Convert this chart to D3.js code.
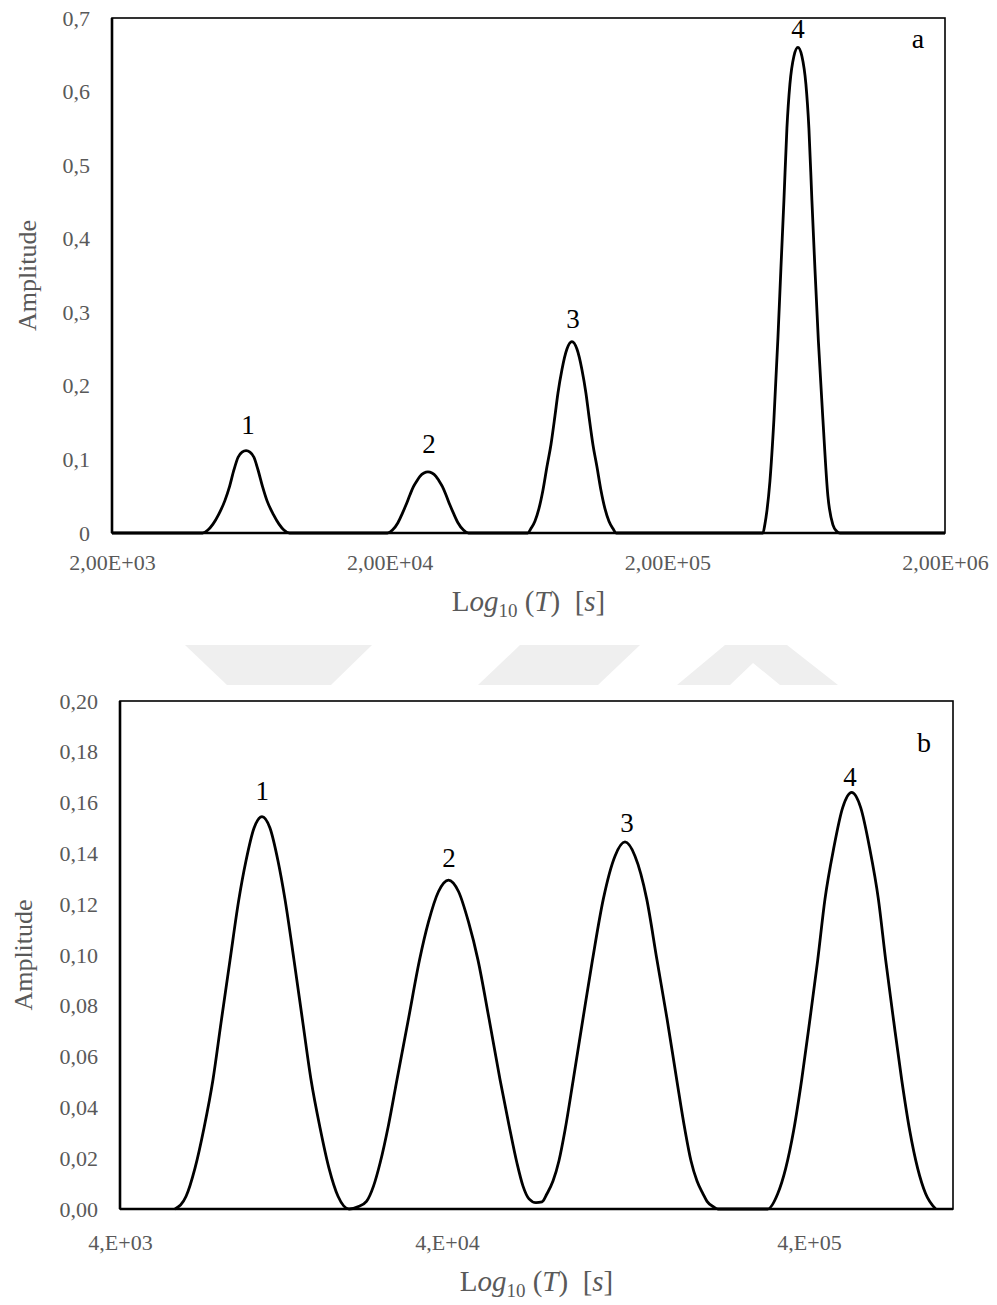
<!DOCTYPE html>
<html>
<head>
<meta charset="utf-8">
<script src="https://cdn.jsdelivr.net/npm/d3@7"></script>
<style>
body { margin: 0; background: #fff; }
svg text { font-family: "Liberation Serif", "Times New Roman", serif; }
</style>
</head>
<body>
<div id="chart"></div>
<script>
// Panel a : amplitude en fonction de T (s)
const timeA = [2000,
    4240, 4430, 4620, 4840, 5100, 5300, 5500, 5690, 5880, 6080, 6280, 6490, 6710, 6970, 7230, 7630, 7990, 8320, 8710,
    19640, 20470, 21420, 22240, 22890, 23670, 24360, 25080, 25710, 26580, 27470, 28400, 29360, 30100, 30980, 31890, 32970, 33940, 35230, 36880, 38440,
    62950, 64540, 66710, 68960, 71290, 73690, 76180, 78750, 80730, 83450, 86990, 90670, 94510, 98520, 101840, 104400, 107930, 111570, 115330, 119220, 123240, 127400, 130600,
    441900, 449200, 456700, 468200, 484000, 500400, 513000, 525900, 539100, 552700, 571300, 590600, 610500, 631100, 647000, 663300, 680000, 700100, 726700, 757400, 789500, 816100, 836700,
    2000000];
const ampA = [0,
    0, 0.004, 0.012, 0.025, 0.044, 0.063, 0.086, 0.103, 0.110, 0.112, 0.110, 0.103, 0.086, 0.063, 0.044, 0.025, 0.012, 0.004, 0,
    0, 0.004, 0.014, 0.027, 0.038, 0.052, 0.063, 0.071, 0.077, 0.0815, 0.083, 0.0815, 0.077, 0.071, 0.063, 0.052, 0.038, 0.027, 0.014, 0.004, 0,
    0, 0.006, 0.016, 0.033, 0.058, 0.090, 0.120, 0.159, 0.190, 0.222, 0.250, 0.260, 0.250, 0.222, 0.190, 0.159, 0.120, 0.090, 0.058, 0.033, 0.016, 0.006, 0,
    0, 0.012, 0.030, 0.070, 0.154, 0.265, 0.360, 0.452, 0.550, 0.610, 0.648, 0.660, 0.648, 0.610, 0.550, 0.452, 0.360, 0.260, 0.154, 0.050, 0.011, 0.002, 0,
    0];
const xTicksA = [2000, 20000, 200000, 2000000];
const xLabelsA = ['2,00E+03', '2,00E+04', '2,00E+05', '2,00E+06'];
const yTicksA = [0, 0.1, 0.2, 0.3, 0.4, 0.5, 0.6, 0.7];
const yLabelsA = ['0', '0,1', '0,2', '0,3', '0,4', '0,5', '0,6', '0,7'];
const peakTimeA = [6180, 27700, 91500, 591000];
const peakLabelAmpA = [0.1345, 0.1087, 0.2785, 0.6726];

// Panel b
const timeB = [5890, 6370, 6780, 7230, 7700, 8140, 8680, 9240, 9710, 10280, 10870, 11500, 12170, 12780, 13620, 14510, 15350, 16360, 17430, 18570,
    20060, 21450, 22690, 23840, 24960, 26490, 28130, 30510, 32960, 35110, 37680, 40380, 43040, 45860, 48720, 52250, 56040, 59340, 62440, 64870, 67390,
    70460, 73190, 75560, 78500, 81540, 84730, 89320, 95010, 100900, 108100, 116500, 124100, 132200, 142500, 152100, 162100, 172400, 181800, 188800, 196200, 203800, 209100, 217200,
    224200, 307600, 327800, 344900, 362900, 381900, 401800, 422800, 442800, 468100, 495600, 524800, 555800, 588500, 622000, 651600, 685600, 721300, 759000, 798600, 840300, 895500];
const ampB = [0, 0.005, 0.016, 0.032, 0.051, 0.073, 0.098, 0.122, 0.137, 0.150, 0.1545, 0.150, 0.137, 0.122, 0.098, 0.073, 0.051, 0.032, 0.016, 0.005,
    0, 0.001, 0.003, 0.009, 0.018, 0.033, 0.051, 0.075, 0.098, 0.113, 0.125, 0.1295, 0.125, 0.113, 0.098, 0.075, 0.051, 0.033, 0.018, 0.009, 0.004,
    0.0025, 0.0028, 0.006, 0.011, 0.019, 0.031, 0.051, 0.075, 0.098, 0.122, 0.139, 0.1445, 0.139, 0.122, 0.098, 0.075, 0.051, 0.031, 0.019, 0.011, 0.006, 0.003, 0.001,
    0, 0, 0.006, 0.016, 0.031, 0.051, 0.074, 0.098, 0.122, 0.142, 0.158, 0.164, 0.158, 0.142, 0.122, 0.098, 0.074, 0.051, 0.031, 0.016, 0.006, 0];
const xTicksB = [4000, 40000, 400000];
const xLabelsB = ['4,E+03', '4,E+04', '4,E+05'];
const yTicksB = [0, 0.02, 0.04, 0.06, 0.08, 0.10, 0.12, 0.14, 0.16, 0.18, 0.20];
const yLabelsB = ['0,00', '0,02', '0,04', '0,06', '0,08', '0,10', '0,12', '0,14', '0,16', '0,18', '0,20'];
const peakTimeB = [10900, 40500, 125700, 519300];
const peakLabelAmpB = [0.161, 0.1346, 0.1484, 0.1665];

const W = 997, H = 1305;
const GREY = '#595959';

const svg = d3.select('#chart').append('svg')
    .attr('width', W)
    .attr('height', H)
    .style('background', '#fff');

// filigrane en fond
const wm = svg.append('g').attr('fill', '#efefef');
wm.append('polygon').attr('points', '185,645 372,645 331,685 227,685');
wm.append('polygon').attr('points', '520,645 640,645 598,685 478,685');
wm.append('polygon').attr('points', '725,645 787,645 838,685 780,685 753,663 730,685 677,685');

function drawPanel(cfg) {
    const { left, top, right, bottom } = cfg.box;
    const x = cfg.x;
    const y = d3.scaleLinear().domain(cfg.yDomain).range([bottom, top]);

    const g = svg.append('g');

    // axe Y
    g.append('g')
        .attr('transform', `translate(${left},0)`)
        .call(d3.axisLeft(y).tickValues(cfg.yTicks)
            .tickFormat((d, i) => cfg.yLabels[i])
            .tickSize(0).tickPadding(22))
        .call(a => a.select('.domain').remove())
        .attr('font-size', 22)
        .selectAll('text').attr('fill', GREY);

    // axe X
    g.append('g')
        .attr('transform', `translate(0,${bottom})`)
        .call(d3.axisBottom(x).tickValues(cfg.xTicks)
            .tickFormat((d, i) => cfg.xLabels[i])
            .tickSize(0).tickPadding(cfg.xPad))
        .call(a => a.select('.domain').remove())
        .attr('font-size', 22)
        .selectAll('text').attr('fill', GREY);

    // cadre
    g.append('rect')
        .attr('x', left).attr('y', top)
        .attr('width', right - left).attr('height', bottom - top)
        .attr('fill', 'none').attr('stroke', '#000').attr('stroke-width', 1.6);
    g.append('line')
        .attr('x1', left).attr('x2', left).attr('y1', top).attr('y2', bottom)
        .attr('stroke', '#000').attr('stroke-width', 2.6);
    g.append('line')
        .attr('x1', left).attr('x2', right).attr('y1', bottom).attr('y2', bottom)
        .attr('stroke', '#000').attr('stroke-width', 2.6);

    // courbe
    const pts = cfg.times.map((t, i) => [t, cfg.amps[i]]);
    const line = d3.line()
        .x(d => x(d[0]))
        .y(d => y(d[1]))
        .curve(d3.curveMonotoneX);
    g.append('path')
        .datum(pts)
        .attr('d', line)
        .attr('fill', 'none')
        .attr('stroke', '#000')
        .attr('stroke-width', 2.8)
        .attr('stroke-linejoin', 'round');

    // numéros des pics
    g.selectAll('.peak')
        .data(cfg.peakTimes)
        .enter()
        .append('text')
        .attr('class', 'peak')
        .attr('x', d => x(d))
        .attr('y', (d, i) => y(cfg.peakLabelAmps[i]))
        .attr('text-anchor', 'middle')
        .attr('font-size', 27)
        .attr('fill', '#000')
        .text((d, i) => i + 1);

    // lettre du panneau
    g.append('text')
        .attr('x', right - cfg.letterDx)
        .attr('y', top + cfg.letterDy)
        .attr('text-anchor', 'middle')
        .attr('font-size', 28)
        .attr('fill', '#000')
        .text(cfg.letter);

    // titre Y
    g.append('text')
        .attr('transform', `translate(${cfg.yTitleX},${(top + bottom) / 2}) rotate(-90)`)
        .attr('text-anchor', 'middle')
        .attr('dy', '0.35em')
        .attr('font-size', 26)
        .attr('fill', GREY)
        .text('Amplitude');

    // titre X : Log10 (T) [s]
    const t = g.append('text')
        .attr('x', (left + right) / 2)
        .attr('y', cfg.xTitleY)
        .attr('text-anchor', 'middle')
        .attr('font-size', 29)
        .attr('fill', GREY);
    t.append('tspan').text('L');
    t.append('tspan').attr('font-style', 'italic').text('og');
    t.append('tspan').attr('font-size', 19).attr('dy', 6).text('10');
    t.append('tspan').attr('dy', -6).text('\u00a0(');
    t.append('tspan').attr('font-style', 'italic').text('T');
    t.append('tspan').text(')\u00a0\u00a0[');
    t.append('tspan').attr('font-style', 'italic').text('s');
    t.append('tspan').text(']');
}

drawPanel({
    box: { left: 112, top: 18, right: 945, bottom: 533 },
    x: d3.scaleLog().domain([2000, 2000000]).range([112, 945]),
    yDomain: [0, 0.7],
    yTicks: yTicksA, yLabels: yLabelsA,
    xTicks: xTicksA, xLabels: xLabelsA, xPad: 21,
    times: timeA, amps: ampA,
    peakTimes: peakTimeA, peakLabelAmps: peakLabelAmpA,
    letter: 'a', letterDx: 27, letterDy: 30,
    yTitleX: 27, xTitleY: 611
});

drawPanel({
    box: { left: 120, top: 701, right: 953, bottom: 1209 },
    x: d3.scaleLog().domain([4000, 40000, 400000, 1000000]).range([120, 447, 809, 953]),
    yDomain: [0, 0.2],
    yTicks: yTicksB, yLabels: yLabelsB,
    xTicks: xTicksB, xLabels: xLabelsB, xPad: 25,
    times: timeB, amps: ampB,
    peakTimes: peakTimeB, peakLabelAmps: peakLabelAmpB,
    letter: 'b', letterDx: 29, letterDy: 51,
    yTitleX: 23, xTitleY: 1291
});
</script>
</body>
</html>
